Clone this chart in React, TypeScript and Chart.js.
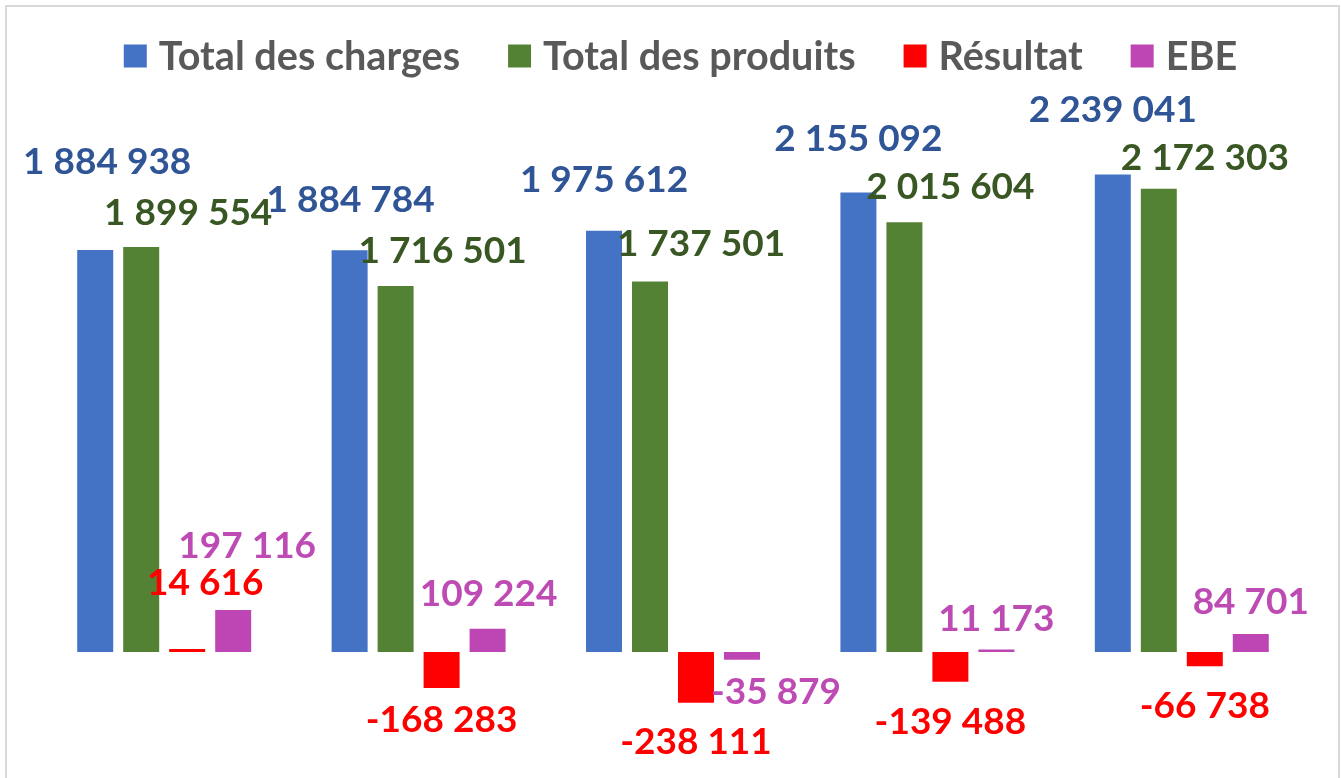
import React, { useEffect, useRef } from "react";
import { Chart, registerables } from "chart.js";

Chart.register(...registerables);

const categories = ["1", "2", "3", "4", "5"];
const seriesNames = ["Total des charges", "Total des produits", "Résultat", "EBE"];
const totalCharges = [1884938, 1884784, 1975612, 2155092, 2239041];
const totalProduits = [1899554, 1716501, 1737501, 2015604, 2172303];
const resultat = [14616, -168283, -238111, -139488, -66738];
const ebe = [197116, 109224, -35879, 11173, 84701];

const barColors = ["#4472C4", "#548235", "#FF0000", "#BE46B4"];
const labelColors = ["#2F5597", "#385723", "#FF0000", "#BE4BB4"];

// manual label placement tweaks (like hand-moved Excel labels), [dx, dy] in px
const labelShifts = [
  [[12, -54], [1, -16], [0, -17], [0, -19], [0, -31]],
  [[47, 0], [47, -1], [51, -3], [46, -1], [46, 3]],
  [[18, -32], [0, -6], [0, 1], [0, 2], [0, 2]],
  [[14, -30], [1, -1], [34, -6], [0, 3], [0, 2]],
];

const fmt = (v: number) => {
  const s = Math.abs(v).toString().replace(/\B(?=(\d{3})+(?!\d))/g, " ");
  return (v < 0 ? "-" : "") + s;
};

const FONT = "Lato";

const valueLabelPlugin = {
  id: "valueLabels",
  afterDatasetsDraw(chart: any) {
    const ctx = chart.ctx;
    ctx.save();
    ctx.font = `bold 37px ${FONT}`;
    ctx.textAlign = "center";
    ctx.textBaseline = "middle";
    chart.data.datasets.forEach((ds: any, di: number) => {
      const meta = chart.getDatasetMeta(di);
      meta.data.forEach((el: any, i: number) => {
        const v = ds.data[i] as number;
        const [dx, dy] = labelShifts[di][i];
        const y = v >= 0 ? el.y - 34 : el.y + 38;
        ctx.fillStyle = labelColors[di];
        ctx.fillText(fmt(v), el.x + dx, y + dy);
      });
    });
    ctx.restore();
  },
};

const legendPlugin = {
  id: "customLegend",
  afterDraw(chart: any) {
    const ctx = chart.ctx;
    ctx.save();
    ctx.font = `bold 39.6px ${FONT}`;
    ctx.textBaseline = "middle";
    ctx.textAlign = "left";
    const box = 23;
    const gapBoxText = 12;
    const gapItems = 48;
    const widths = seriesNames.map((n) => ctx.measureText(n).width);
    const total =
      widths.reduce((a, w) => a + box + gapBoxText + w, 0) + gapItems * (seriesNames.length - 1);
    let x = chart.width / 2 - total / 2 + 10;
    const cy = 56;
    seriesNames.forEach((n, i) => {
      ctx.fillStyle = barColors[i];
      ctx.fillRect(x, cy - box / 2, box, box);
      x += box + gapBoxText;
      ctx.fillStyle = "#595959";
      ctx.fillText(n, x, cy + 1);
      x += widths[i] + gapItems;
    });
    ctx.restore();
  },
};

export default function App() {
  const ref = useRef<HTMLCanvasElement | null>(null);
  useEffect(() => {
    if (!ref.current) return;
    const chart = new Chart(ref.current, {
      type: "bar",
      data: {
        labels: categories,
        datasets: [totalCharges, totalProduits, resultat, ebe].map((d, i) => ({
          label: seriesNames[i],
          data: d,
          backgroundColor: barColors[i],
          borderWidth: 0,
          categoryPercentage: 0.7231,
          barPercentage: 0.7826,
        })),
      },
      options: {
        animation: false,
        responsive: false,
        maintainAspectRatio: false,
        layout: { padding: { top: 90, bottom: 8, left: 37, right: 32 } },
        plugins: { legend: { display: false }, tooltip: { enabled: false } },
        scales: {
          x: { display: false },
          y: { display: false, min: -553400, max: 2635800 },
        },
      },
      plugins: [valueLabelPlugin, legendPlugin],
    });
    return () => chart.destroy();
  }, []);
  return (
    <div style={{ position: "absolute", left: 0, top: 0, width: 1341, height: 778, overflow: "hidden", background: "#fff" }}>
      <div
        style={{
          position: "absolute",
          left: 5,
          top: 5,
          width: 1331,
          height: 800,
          border: "2px solid #d9d9d9",
        }}
      />
      <canvas ref={ref} width={1341} height={778} style={{ position: "absolute", left: 0, top: 0 }} />
    </div>
  );
}
